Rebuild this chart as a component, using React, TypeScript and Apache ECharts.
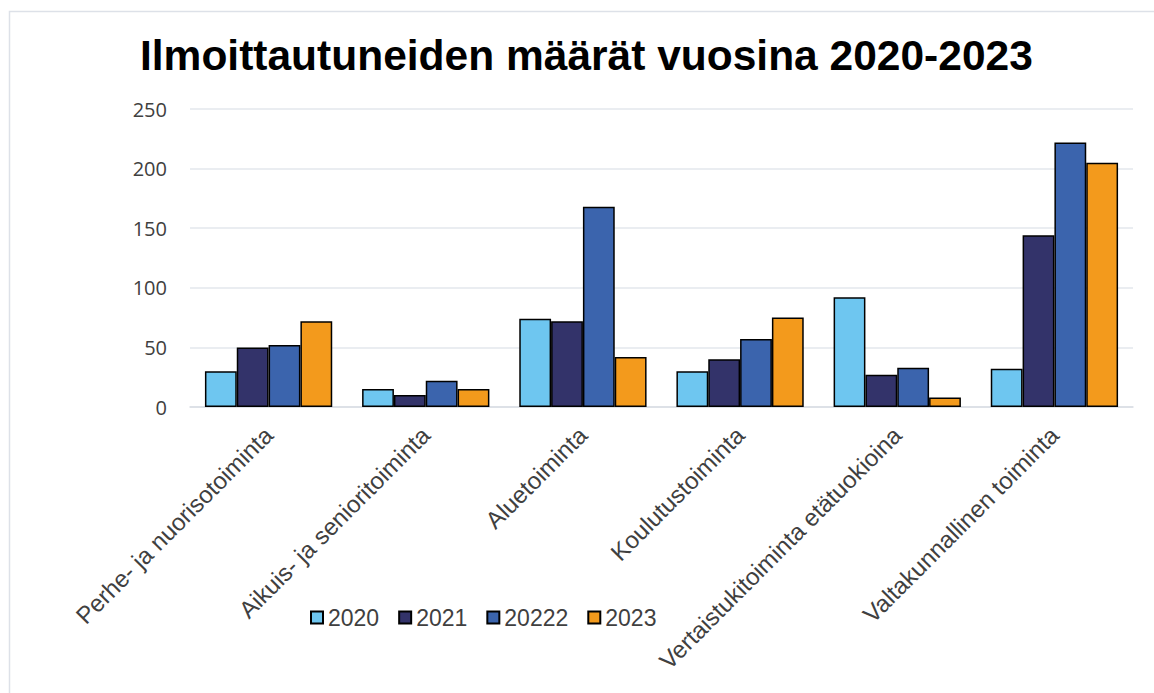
import React, { useEffect, useRef } from "react";
import * as echarts from "echarts";

const categories = [
  "Perhe- ja nuorisotoiminta",
  "Aikuis- ja senioritoiminta",
  "Aluetoiminta",
  "Koulutustoiminta",
  "Vertaistukitoiminta etätuokioina",
  "Valtakunnallinen toiminta",
];
const seriesNames = ["2020", "2021", "20222", "2023"];
const values2020 = [30, 15, 74, 30, 92, 32];
const values2021 = [50, 10, 72, 40, 27, 144];
const values2022 = [52, 22, 168, 57, 33, 222];
const values2023 = [72, 15, 42, 75, 8, 205];
const seriesColors = ["#6EC6F0", "#33336A", "#3B64AD", "#F39A1C"];
const yTicks = { min: 0, max: 250, interval: 50 };

export default function App() {
  const ref = useRef<HTMLDivElement>(null);
  useEffect(() => {
    if (!ref.current) return;
    const chart = echarts.init(ref.current, undefined, { renderer: "svg" });
    const data = [values2020, values2021, values2022, values2023];
    chart.setOption({
      animation: false,
      backgroundColor: "#ffffff",
      title: {
        text: "Ilmoittautuneiden määrät vuosina 2020-2023",
        left: 140,
        top: 34,
        padding: 0,
        textStyle: {
          fontFamily: "Liberation Sans, Arial, sans-serif",
          fontWeight: "bold",
          fontSize: 42.5,
          color: "#000000",
        },
      },
      graphic: [
        {
          type: "rect",
          shape: { x: 9.5, y: 11.5, width: 1300, height: 900 },
          style: { fill: "none", stroke: "#dde1e8", lineWidth: 1.5 },
          silent: true,
          z: -1,
        },
      ],
      legend: {
        left: 310,
        top: 606,
        padding: 0,
        itemWidth: 12,
        itemHeight: 12,
        itemGap: 19,
        icon: "rect",
        textStyle: {
          fontFamily: "Liberation Sans, Arial, sans-serif",
          fontSize: 23,
          color: "#404040",
        },
        data: seriesNames,
      },
      grid: { left: 190, right: 21, top: 109, bottom: 286, containLabel: false },
      xAxis: {
        type: "category",
        data: categories,
        axisLine: { lineStyle: { color: "#d9dde3", width: 1.5 } },
        axisTick: { show: false },
        axisLabel: {
          rotate: 45,
          interval: 0,
          margin: 24,
          fontFamily: "Liberation Sans, Arial, sans-serif",
          fontSize: 24,
          color: "#404040",
        },
      },
      yAxis: {
        type: "value",
        min: yTicks.min,
        max: yTicks.max,
        interval: yTicks.interval,
        axisLine: { show: false },
        axisTick: { show: false },
        splitLine: { lineStyle: { color: "#e3e7ec", width: 1.5 } },
        axisLabel: {
          margin: 23,
          fontFamily: "Open Sans, sans-serif",
          fontSize: 20,
          color: "#404040",
        },
      },
      series: seriesNames.map((name, i) => ({
        name,
        type: "bar",
        data: data[i],
        barGap: "0%",
        barCategoryGap: "19%",
        itemStyle: {
          color: seriesColors[i],
          borderColor: "#000000",
          borderWidth: 1.5,
        },
      })),
    });
    return () => chart.dispose();
  }, []);
  return (
    <div
      ref={ref}
      style={{ position: "fixed", left: 0, top: 0, width: 1154, height: 693, background: "#fff" }}
    />
  );
}
